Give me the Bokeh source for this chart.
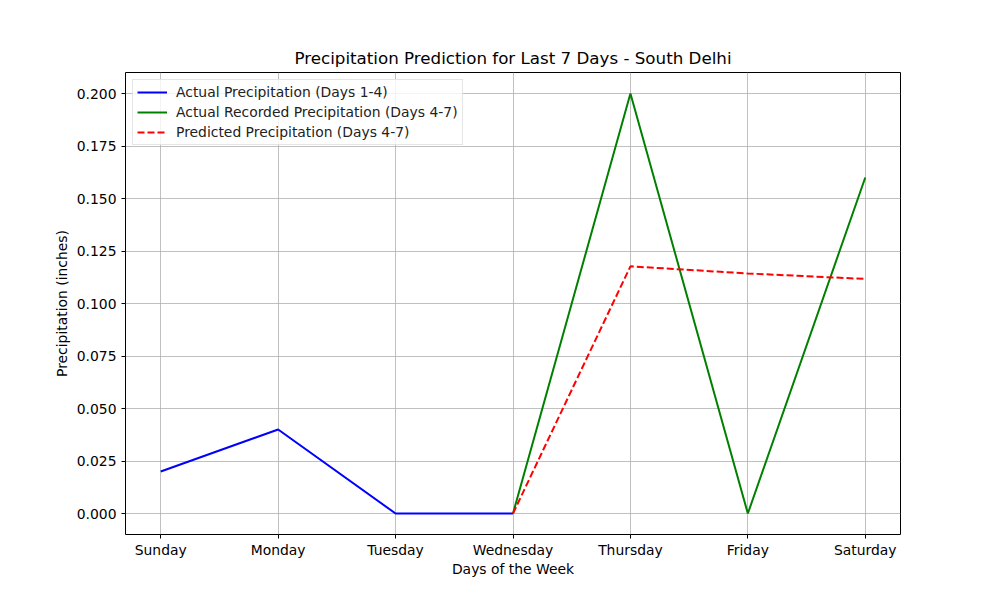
from bokeh.plotting import figure
from bokeh.models import Range1d, Legend, LegendItem, FixedTicker
from bokeh.embed import file_html
from bokeh.resources import INLINE

days = ["Sunday", "Monday", "Tuesday", "Wednesday", "Thursday", "Friday", "Saturday"]
actual_days = ["Sunday", "Monday", "Tuesday", "Wednesday"]
actual_vals = [0.02, 0.04, 0.0, 0.0]
recorded_days = ["Wednesday", "Thursday", "Friday", "Saturday"]
recorded_vals = [0.0, 0.2, 0.0, 0.16]
predicted_days = ["Wednesday", "Thursday", "Friday", "Saturday"]
predicted_vals = [0.0, 0.1177, 0.1143, 0.1117]
y_ticks = [0.0, 0.025, 0.05, 0.075, 0.1, 0.125, 0.15, 0.175, 0.2]

idx = {d: i for i, d in enumerate(days)}
FONT = "DejaVu Sans"
FS = "13.9px"

p = figure(width=992, height=592, output_backend="svg", toolbar_location=None,
           x_range=Range1d(-0.3, 6.3), y_range=Range1d(-0.01, 0.21),
           title="Precipitation Prediction for Last 7 Days - South Delhi")
p.min_border_left = 125
p.min_border_right = 92
p.min_border_top = 72
p.min_border_bottom = 58

p.title.text_font = FONT
p.title.text_font_size = "16.7px"
p.title.text_font_style = "normal"
p.title.align = "center"
p.title.text_color = "black"

p.outline_line_color = "black"
p.outline_line_width = 1
p.background_fill_color = "white"
p.border_fill_color = "white"

p.xaxis.ticker = FixedTicker(ticks=list(range(len(days))))
p.xaxis.major_label_overrides = {i: d for i, d in enumerate(days)}
p.yaxis.ticker = FixedTicker(ticks=y_ticks)
p.yaxis.major_label_overrides = {t: f"{t:.3f}" for t in y_ticks}

for ax in (p.xaxis[0], p.yaxis[0]):
    ax.axis_line_color = None
    ax.minor_tick_line_color = None
    ax.major_tick_line_color = "black"
    ax.major_tick_out = 4
    ax.major_tick_in = 0
    ax.major_label_text_font = FONT
    ax.major_label_text_font_size = FS
    ax.major_label_text_color = "black"
    ax.axis_label_text_font = FONT
    ax.axis_label_text_font_size = FS
    ax.axis_label_text_font_style = "normal"
    ax.axis_label_text_color = "black"

p.xaxis.axis_label = "Days of the Week"
p.yaxis.axis_label = "Precipitation (inches)"
p.xaxis.major_label_standoff = 3
p.yaxis.major_label_standoff = 5
p.xaxis.axis_label_standoff = 0
p.yaxis.axis_label_standoff = 4

p.grid.grid_line_color = "#b0b0b0"
p.grid.grid_line_width = 0.8

r1 = p.line([idx[d] for d in actual_days], actual_vals, line_color="blue", line_width=2)
r2 = p.line([idx[d] for d in recorded_days], recorded_vals, line_color="green", line_width=2)
r3 = p.line([idx[d] for d in predicted_days], predicted_vals, line_color="red", line_width=2,
            line_dash="7 3")

legend = Legend(items=[
    LegendItem(label="Actual Precipitation (Days 1-4)", renderers=[r1]),
    LegendItem(label="Actual Recorded Precipitation (Days 4-7)", renderers=[r2]),
    LegendItem(label="Predicted Precipitation (Days 4-7)", renderers=[r3]),
], location="top_left")
legend.label_text_font = FONT
legend.label_text_font_size = FS
legend.label_text_color = "#222222"
legend.border_line_color = "#cccccc"
legend.background_fill_alpha = 0.8
legend.glyph_width = 30
legend.glyph_height = 14
legend.label_height = 14
legend.spacing = 4
legend.padding = 4
legend.margin = 7
legend.label_standoff = 9
p.add_layout(legend)

open("out.html", "w").write(file_html(p, INLINE))
